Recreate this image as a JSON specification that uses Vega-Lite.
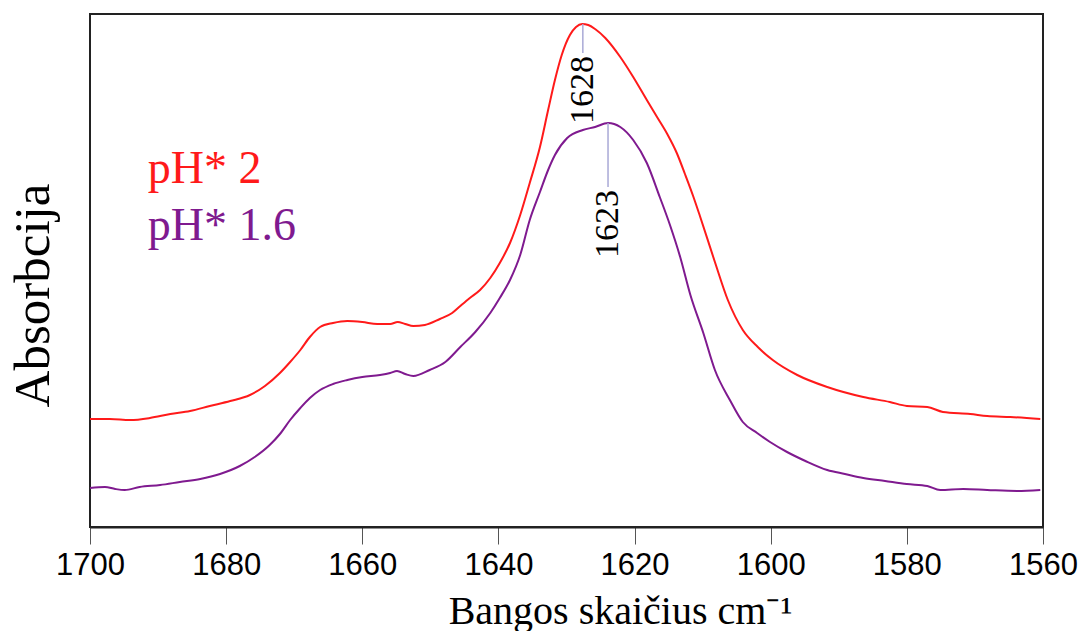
{
  "$schema": "https://vega.github.io/schema/vega-lite/v6.json",
  "width": 953,
  "height": 513,
  "autosize": "none",
  "padding": {"left": 90, "top": 14, "right": 37, "bottom": 104},
  "background": "white",
  "config": {
    "view": {"stroke": "#222", "strokeWidth": 2},
    "axis": {"grid": false}
  },
  "datasets": {
    "spectra": [
      {"wn": 1700.0, "a": 108, "s": "pH* 2"}, {"wn": 1697.1, "a": 108, "s": "pH* 2"}, {"wn": 1694.1, "a": 107, "s": "pH* 2"}, {"wn": 1691.2, "a": 109, "s": "pH* 2"}, {"wn": 1688.2, "a": 113, "s": "pH* 2"}, {"wn": 1685.3, "a": 116, "s": "pH* 2"}, {"wn": 1682.4, "a": 121, "s": "pH* 2"}, {"wn": 1679.4, "a": 126, "s": "pH* 2"}, {"wn": 1676.5, "a": 132, "s": "pH* 2"}, {"wn": 1674.3, "a": 141, "s": "pH* 2"}, {"wn": 1672.1, "a": 154, "s": "pH* 2"}, {"wn": 1670.6, "a": 165, "s": "pH* 2"}, {"wn": 1669.1, "a": 177, "s": "pH* 2"}, {"wn": 1667.7, "a": 190, "s": "pH* 2"}, {"wn": 1666.2, "a": 200, "s": "pH* 2"}, {"wn": 1664.3, "a": 204, "s": "pH* 2"}, {"wn": 1662.2, "a": 206, "s": "pH* 2"}, {"wn": 1660.0, "a": 205, "s": "pH* 2"}, {"wn": 1657.8, "a": 203, "s": "pH* 2"}, {"wn": 1655.9, "a": 203, "s": "pH* 2"}, {"wn": 1654.8, "a": 205, "s": "pH* 2"}, {"wn": 1653.7, "a": 203, "s": "pH* 2"}, {"wn": 1652.5, "a": 201, "s": "pH* 2"}, {"wn": 1650.8, "a": 202, "s": "pH* 2"}, {"wn": 1648.6, "a": 208, "s": "pH* 2"}, {"wn": 1646.8, "a": 214, "s": "pH* 2"}, {"wn": 1645.6, "a": 221, "s": "pH* 2"}, {"wn": 1644.2, "a": 229, "s": "pH* 2"}, {"wn": 1642.7, "a": 237, "s": "pH* 2"}, {"wn": 1641.2, "a": 249, "s": "pH* 2"}, {"wn": 1639.8, "a": 264, "s": "pH* 2"}, {"wn": 1638.3, "a": 284, "s": "pH* 2"}, {"wn": 1636.8, "a": 312, "s": "pH* 2"}, {"wn": 1635.4, "a": 344, "s": "pH* 2"}, {"wn": 1633.9, "a": 380, "s": "pH* 2"}, {"wn": 1632.7, "a": 417, "s": "pH* 2"}, {"wn": 1631.7, "a": 447, "s": "pH* 2"}, {"wn": 1630.7, "a": 472, "s": "pH* 2"}, {"wn": 1629.5, "a": 492, "s": "pH* 2"}, {"wn": 1628.6, "a": 500, "s": "pH* 2"}, {"wn": 1627.7, "a": 503, "s": "pH* 2"}, {"wn": 1626.8, "a": 502, "s": "pH* 2"}, {"wn": 1625.8, "a": 498, "s": "pH* 2"}, {"wn": 1624.3, "a": 489, "s": "pH* 2"}, {"wn": 1622.1, "a": 470, "s": "pH* 2"}, {"wn": 1620.2, "a": 450, "s": "pH* 2"}, {"wn": 1618.2, "a": 427, "s": "pH* 2"}, {"wn": 1616.7, "a": 410, "s": "pH* 2"}, {"wn": 1615.2, "a": 393, "s": "pH* 2"}, {"wn": 1613.8, "a": 374, "s": "pH* 2"}, {"wn": 1612.6, "a": 353, "s": "pH* 2"}, {"wn": 1611.4, "a": 331, "s": "pH* 2"}, {"wn": 1610.4, "a": 311, "s": "pH* 2"}, {"wn": 1608.2, "a": 265, "s": "pH* 2"}, {"wn": 1606.3, "a": 227, "s": "pH* 2"}, {"wn": 1604.1, "a": 197, "s": "pH* 2"}, {"wn": 1601.9, "a": 180, "s": "pH* 2"}, {"wn": 1599.7, "a": 167, "s": "pH* 2"}, {"wn": 1596.1, "a": 152, "s": "pH* 2"}, {"wn": 1591.7, "a": 140, "s": "pH* 2"}, {"wn": 1586.4, "a": 130, "s": "pH* 2"}, {"wn": 1582.5, "a": 125, "s": "pH* 2"}, {"wn": 1580.0, "a": 121, "s": "pH* 2"}, {"wn": 1577.0, "a": 120, "s": "pH* 2"}, {"wn": 1574.7, "a": 115, "s": "pH* 2"}, {"wn": 1570.7, "a": 113, "s": "pH* 2"}, {"wn": 1568.2, "a": 111, "s": "pH* 2"}, {"wn": 1564.8, "a": 110, "s": "pH* 2"}, {"wn": 1560.4, "a": 108, "s": "pH* 2"},
      {"wn": 1700.0, "a": 39, "s": "pH* 1.6"}, {"wn": 1697.8, "a": 40, "s": "pH* 1.6"}, {"wn": 1696.3, "a": 38, "s": "pH* 1.6"}, {"wn": 1694.9, "a": 37, "s": "pH* 1.6"}, {"wn": 1692.7, "a": 40, "s": "pH* 1.6"}, {"wn": 1689.7, "a": 42, "s": "pH* 1.6"}, {"wn": 1686.8, "a": 45, "s": "pH* 1.6"}, {"wn": 1683.8, "a": 48, "s": "pH* 1.6"}, {"wn": 1680.9, "a": 53, "s": "pH* 1.6"}, {"wn": 1678.0, "a": 61, "s": "pH* 1.6"}, {"wn": 1675.8, "a": 70, "s": "pH* 1.6"}, {"wn": 1673.6, "a": 82, "s": "pH* 1.6"}, {"wn": 1672.1, "a": 93, "s": "pH* 1.6"}, {"wn": 1670.6, "a": 107, "s": "pH* 1.6"}, {"wn": 1669.1, "a": 119, "s": "pH* 1.6"}, {"wn": 1667.7, "a": 129, "s": "pH* 1.6"}, {"wn": 1666.2, "a": 137, "s": "pH* 1.6"}, {"wn": 1664.3, "a": 143, "s": "pH* 1.6"}, {"wn": 1662.2, "a": 147, "s": "pH* 1.6"}, {"wn": 1660.0, "a": 150, "s": "pH* 1.6"}, {"wn": 1657.4, "a": 152, "s": "pH* 1.6"}, {"wn": 1655.9, "a": 154, "s": "pH* 1.6"}, {"wn": 1654.9, "a": 156, "s": "pH* 1.6"}, {"wn": 1653.7, "a": 153, "s": "pH* 1.6"}, {"wn": 1652.5, "a": 151, "s": "pH* 1.6"}, {"wn": 1650.1, "a": 157, "s": "pH* 1.6"}, {"wn": 1647.8, "a": 165, "s": "pH* 1.6"}, {"wn": 1645.6, "a": 180, "s": "pH* 1.6"}, {"wn": 1643.4, "a": 195, "s": "pH* 1.6"}, {"wn": 1641.2, "a": 214, "s": "pH* 1.6"}, {"wn": 1639.8, "a": 229, "s": "pH* 1.6"}, {"wn": 1638.3, "a": 247, "s": "pH* 1.6"}, {"wn": 1636.8, "a": 272, "s": "pH* 1.6"}, {"wn": 1635.4, "a": 307, "s": "pH* 1.6"}, {"wn": 1633.9, "a": 335, "s": "pH* 1.6"}, {"wn": 1632.7, "a": 357, "s": "pH* 1.6"}, {"wn": 1631.7, "a": 372, "s": "pH* 1.6"}, {"wn": 1629.9, "a": 389, "s": "pH* 1.6"}, {"wn": 1627.6, "a": 397, "s": "pH* 1.6"}, {"wn": 1625.8, "a": 400, "s": "pH* 1.6"}, {"wn": 1623.9, "a": 404, "s": "pH* 1.6"}, {"wn": 1623.0, "a": 403, "s": "pH* 1.6"}, {"wn": 1622.1, "a": 400, "s": "pH* 1.6"}, {"wn": 1620.2, "a": 387, "s": "pH* 1.6"}, {"wn": 1618.2, "a": 364, "s": "pH* 1.6"}, {"wn": 1616.3, "a": 330, "s": "pH* 1.6"}, {"wn": 1614.8, "a": 302, "s": "pH* 1.6"}, {"wn": 1613.3, "a": 270, "s": "pH* 1.6"}, {"wn": 1611.8, "a": 232, "s": "pH* 1.6"}, {"wn": 1609.9, "a": 194, "s": "pH* 1.6"}, {"wn": 1608.2, "a": 157, "s": "pH* 1.6"}, {"wn": 1606.0, "a": 127, "s": "pH* 1.6"}, {"wn": 1604.1, "a": 105, "s": "pH* 1.6"}, {"wn": 1602.0, "a": 94, "s": "pH* 1.6"}, {"wn": 1600.1, "a": 85, "s": "pH* 1.6"}, {"wn": 1597.6, "a": 75, "s": "pH* 1.6"}, {"wn": 1594.9, "a": 66, "s": "pH* 1.6"}, {"wn": 1591.7, "a": 57, "s": "pH* 1.6"}, {"wn": 1589.1, "a": 53, "s": "pH* 1.6"}, {"wn": 1586.4, "a": 49, "s": "pH* 1.6"}, {"wn": 1583.2, "a": 46, "s": "pH* 1.6"}, {"wn": 1580.0, "a": 43, "s": "pH* 1.6"}, {"wn": 1577.0, "a": 41, "s": "pH* 1.6"}, {"wn": 1575.1, "a": 37, "s": "pH* 1.6"}, {"wn": 1571.7, "a": 38, "s": "pH* 1.6"}, {"wn": 1568.2, "a": 37, "s": "pH* 1.6"}, {"wn": 1563.8, "a": 36, "s": "pH* 1.6"}, {"wn": 1560.4, "a": 37, "s": "pH* 1.6"}
    ],
    "peaks": [
      {"wn": 1627.6, "top": 503, "bottom": 474, "textY": 471, "label": "1628"},
      {"wn": 1623.9, "top": 404, "bottom": 340, "textY": 337, "label": "1623"}
    ],
    "names": [
      {"wn": 1691.5, "a": 344, "s": "pH* 2"},
      {"wn": 1691.5, "a": 287, "s": "pH* 1.6"}
    ]
  },
  "encoding": {
    "x": {
      "field": "wn", "type": "quantitative",
      "scale": {"domain": [1700, 1560], "nice": false, "zero": false},
      "axis": {
        "values": [1700, 1680, 1660, 1640, 1620, 1600, 1580, 1560],
        "format": "d",
        "title": "Bangos skaičius cm⁻¹",
        "titleFont": "Liberation Serif", "titleFontSize": 40, "titleFontWeight": "normal", "titleColor": "#000",
        "titleX": 530, "titleY": 96, "titleBaseline": "alphabetic", "titleAlign": "center",
        "labelFont": "Liberation Sans", "labelFontSize": 31, "labelColor": "#000", "labelPadding": 6,
        "labelFlush": false, "labelOverlap": false,
        "tickSize": 17, "tickColor": "#555", "tickWidth": 1,
        "domainColor": "#222", "domainWidth": 2
      }
    }
  },
  "layer": [
    {
      "data": {"name": "spectra"},
      "mark": {"type": "line", "strokeWidth": 2, "interpolate": "monotone"},
      "encoding": {
        "y": {
          "field": "a", "type": "quantitative",
          "scale": {"domain": [0, 513], "nice": false, "zero": false},
          "axis": {
            "labels": false, "ticks": false, "domain": false, "grid": false,
            "title": "Absorbcija",
            "titleFont": "Liberation Serif", "titleFontSize": 51, "titleFontWeight": "normal", "titleColor": "#000",
            "titleX": -42, "titleY": 281, "titleAngle": -90, "titleBaseline": "alphabetic", "titleAlign": "center"
          }
        },
        "color": {
          "field": "s", "type": "nominal",
          "scale": {"domain": ["pH* 2", "pH* 1.6"], "range": ["#ff1a1a", "#7f1a8f"]},
          "legend": null
        },
        "detail": {"field": "s"}
      }
    },
    {
      "data": {"name": "peaks"},
      "mark": {"type": "rule", "color": "#a9a9d6", "strokeWidth": 1.5},
      "encoding": {
        "y": {"field": "top", "type": "quantitative"},
        "y2": {"field": "bottom"}
      }
    },
    {
      "data": {"name": "peaks"},
      "mark": {"type": "text", "angle": 270, "align": "right", "baseline": "middle", "font": "Liberation Serif", "fontSize": 34, "color": "#000"},
      "encoding": {
        "y": {"field": "textY", "type": "quantitative"},
        "text": {"field": "label"}
      }
    },
    {
      "data": {"name": "names"},
      "mark": {"type": "text", "align": "left", "baseline": "alphabetic", "font": "Liberation Serif", "fontSize": 46},
      "encoding": {
        "y": {"field": "a", "type": "quantitative"},
        "text": {"field": "s"},
        "color": {"field": "s", "type": "nominal", "legend": null}
      }
    }
  ]
}
